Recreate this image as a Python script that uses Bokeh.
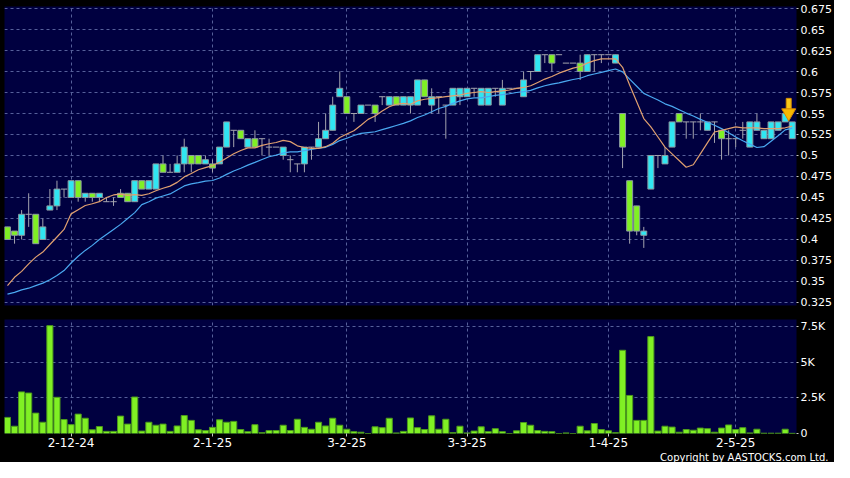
import numpy as np
from bokeh.plotting import figure
from bokeh.layouts import column
from bokeh.models import FixedTicker, Range1d, NumeralTickFormatter, Title
from bokeh.embed import file_html
from bokeh.resources import INLINE

FONT = "DejaVu Sans"

opens = [0.415, 0.41, 0.405, 0.43, 0.43, 0.40, 0.435, 0.44, 0.46, 0.45,
         0.47, 0.45, 0.455, 0.45, 0.445, 0.445, 0.455, 0.455, 0.445, 0.47,
         0.46, 0.46, 0.49, 0.48, 0.48, 0.49, 0.50, 0.50, 0.49, 0.49,
         0.49, 0.51, 0.53, 0.53, 0.51, 0.52, 0.52, 0.51, 0.51, 0.50,
         0.495, 0.49, 0.49, 0.51, 0.51, 0.52, 0.53, 0.57, 0.57, 0.55,
         0.55, 0.56, 0.56, 0.57, 0.56, 0.57, 0.56, 0.56, 0.56, 0.59,
         0.56, 0.57, 0.56, 0.56, 0.57, 0.57, 0.58, 0.56, 0.56, 0.58,
         0.56, 0.58, 0.58, 0.57, 0.60, 0.60, 0.62, 0.62, 0.62, 0.61,
         0.61, 0.61, 0.60, 0.62, 0.62, 0.62, 0.61, 0.55, 0.47, 0.44,
         0.405, 0.46, 0.50, 0.49, 0.51, 0.55, 0.54, 0.54, 0.54, 0.53,
         0.54, 0.53, 0.52, 0.52, 0.53, 0.51, 0.53, 0.52, 0.52, 0.53,
         0.54, 0.52]
highs = [0.415, 0.41, 0.435, 0.455, 0.43, 0.425, 0.46, 0.47, 0.46, 0.47,
         0.47, 0.455, 0.455, 0.455, 0.45, 0.45, 0.46, 0.455, 0.47, 0.47,
         0.47, 0.49, 0.50, 0.49, 0.50, 0.52, 0.50, 0.50, 0.50, 0.495,
         0.51, 0.54, 0.53, 0.53, 0.52, 0.53, 0.52, 0.52, 0.51, 0.51,
         0.50, 0.49, 0.51, 0.51, 0.54, 0.55, 0.57, 0.60, 0.57, 0.55,
         0.56, 0.56, 0.56, 0.57, 0.57, 0.57, 0.57, 0.57, 0.59, 0.59,
         0.58, 0.57, 0.56, 0.58, 0.58, 0.58, 0.58, 0.58, 0.58, 0.58,
         0.59, 0.58, 0.58, 0.60, 0.60, 0.62, 0.62, 0.62, 0.62, 0.61,
         0.61, 0.62, 0.62, 0.62, 0.62, 0.62, 0.62, 0.55, 0.47, 0.44,
         0.415, 0.50, 0.50, 0.51, 0.54, 0.55, 0.54, 0.54, 0.55, 0.54,
         0.54, 0.53, 0.53, 0.52, 0.54, 0.54, 0.55, 0.53, 0.54, 0.54,
         0.55, 0.54]
lows = [0.40, 0.395, 0.40, 0.415, 0.395, 0.40, 0.435, 0.435, 0.45, 0.45,
        0.445, 0.445, 0.445, 0.445, 0.445, 0.44, 0.45, 0.445, 0.445, 0.46,
        0.46, 0.46, 0.48, 0.48, 0.48, 0.48, 0.48, 0.49, 0.49, 0.48,
        0.49, 0.51, 0.51, 0.52, 0.51, 0.51, 0.50, 0.50, 0.51, 0.495,
        0.48, 0.48, 0.48, 0.495, 0.51, 0.52, 0.53, 0.57, 0.55, 0.54,
        0.55, 0.56, 0.54, 0.56, 0.56, 0.56, 0.56, 0.55, 0.56, 0.57,
        0.55, 0.55, 0.52, 0.56, 0.56, 0.57, 0.57, 0.56, 0.56, 0.57,
        0.56, 0.58, 0.58, 0.57, 0.59, 0.60, 0.61, 0.60, 0.62, 0.61,
        0.61, 0.59, 0.60, 0.60, 0.61, 0.62, 0.61, 0.485, 0.395, 0.405,
        0.39, 0.46, 0.485, 0.49, 0.51, 0.54, 0.52, 0.52, 0.53, 0.53,
        0.515, 0.495, 0.50, 0.51, 0.52, 0.51, 0.53, 0.52, 0.52, 0.53,
        0.54, 0.52]
closes = [0.40, 0.405, 0.43, 0.43, 0.395, 0.415, 0.44, 0.46, 0.46, 0.47,
          0.45, 0.455, 0.45, 0.455, 0.445, 0.445, 0.45, 0.445, 0.47, 0.46,
          0.47, 0.49, 0.48, 0.48, 0.49, 0.51, 0.49, 0.49, 0.495, 0.485,
          0.51, 0.54, 0.53, 0.52, 0.52, 0.51, 0.52, 0.51, 0.51, 0.51,
          0.495, 0.49, 0.51, 0.51, 0.52, 0.53, 0.56, 0.58, 0.55, 0.55,
          0.56, 0.56, 0.55, 0.57, 0.57, 0.56, 0.57, 0.57, 0.59, 0.57,
          0.57, 0.57, 0.56, 0.58, 0.58, 0.58, 0.58, 0.58, 0.58, 0.58,
          0.58, 0.58, 0.58, 0.59, 0.60, 0.62, 0.62, 0.61, 0.62, 0.61,
          0.61, 0.60, 0.62, 0.62, 0.62, 0.62, 0.62, 0.51, 0.41, 0.41,
          0.41, 0.50, 0.50, 0.50, 0.54, 0.54, 0.54, 0.54, 0.54, 0.54,
          0.54, 0.52, 0.52, 0.52, 0.53, 0.54, 0.54, 0.53, 0.54, 0.54,
          0.55, 0.54]
volumes = [1130, 510, 2920, 2840, 1430, 790, 7570, 2540, 980, 620,
           1360, 1070, 260, 490, 150, 150, 1220, 660, 2560, 170,
           790, 580, 660, 150, 530, 1260, 920, 260, 210, 430,
           960, 790, 850, 280, 130, 620, 60, 210, 210, 580,
           210, 1000, 430, 300, 790, 530, 1070, 580, 300, 130,
           90, 0, 470, 410, 1070, 40, 150, 1090, 410, 280,
           1240, 300, 1000, 60, 510, 40, 170, 470, 130, 340,
           130, 0, 190, 770, 580, 210, 150, 130, 0, 40,
           0, 510, 190, 700, 280, 190, 60, 5840, 2670, 920,
           920, 6800, 170, 510, 450, 90, 280, 230, 380, 340,
           90, 380, 600, 280, 410, 40, 300, 20, 20, 20,
           300, 10]

# moving averages before enough in-window history exists
ma10_head = [0.345, 0.355, 0.362, 0.371, 0.379, 0.385, 0.394, 0.403, 0.412]
ma20_head = [0.335, 0.337, 0.340, 0.342, 0.345, 0.348, 0.352, 0.357, 0.363,
             0.372, 0.380, 0.387, 0.393, 0.400, 0.406, 0.412, 0.418, 0.425, 0.432]

date_ticks = [9, 29, 48, 65, 85, 103]
date_labels = ["2-12-24", "2-1-25", "3-2-25", "3-3-25", "1-4-25", "2-5-25"]
price_ticks = [0.325, 0.35, 0.375, 0.4, 0.425, 0.45, 0.475, 0.5, 0.525,
               0.55, 0.575, 0.6, 0.625, 0.65, 0.675]
vol_ticks = [0, 2500, 5000, 7500]
vol_labels = ["0", "2.5K", "5K", "7.5K"]

arrow_index = 110.5
arrow_tip = 0.545
arrow_top = 0.568

# ---------------------------------------------------------------------
n = len(closes)
idx = np.arange(n)
o = np.array(opens)
c = np.array(closes)
h = np.array(highs)
l = np.array(lows)
up = c > o + 1e-9
dn = c < o - 1e-9
flat = ~(up | dn)

ma10 = [ma10_head[i] if i < 9 else float(np.mean(c[i - 9:i + 1])) for i in range(n)]
ma20 = [ma20_head[i] if i < 19 else float(np.mean(c[i - 19:i + 1])) for i in range(n)]

BG = "#000040"
GRID = "#56609a"
CYAN = "#30e6f2"
LIME = "#80f024"
WICK = "#a4a4ae"
OUTL = "#8c9aa0"

x_range = Range1d(-0.42, n - 1 + 0.6)

p = figure(width=834, height=318, x_range=x_range, y_range=Range1d(0.3214, 0.6774),
           y_axis_location="right", toolbar_location=None, output_backend="svg",
           min_border_top=6, min_border_bottom=13, min_border_left=4, min_border_right=35,
           background_fill_color=BG, border_fill_color="#000000", outline_line_color=None)

p.segment(x0=idx, x1=idx, y0=l, y1=h, line_color=WICK, line_width=1)
p.vbar(x=idx[up], bottom=o[up], top=c[up], width=0.84, fill_color=CYAN,
       line_color=OUTL, line_width=1)
p.vbar(x=idx[dn], bottom=c[dn], top=o[dn], width=0.84, fill_color=LIME,
       line_color=OUTL, line_width=1)
p.segment(x0=idx[flat] - 0.45, x1=idx[flat] + 0.45, y0=c[flat], y1=c[flat],
          line_color=WICK, line_width=1)
p.line(idx, ma20, line_color="#4aa8f0", line_width=1.2)
p.line(idx, ma10, line_color="#e0a070", line_width=1.2)

# latest-bar arrow
shaft_bottom = arrow_tip + (arrow_top - arrow_tip) * 0.45
p.vbar(x=[arrow_index], bottom=[shaft_bottom], top=[arrow_top], width=0.7,
       fill_color="#f8c818", line_color="#d89000")
p.scatter(x=[arrow_index], y=[arrow_tip + (arrow_top - arrow_tip) * 0.25],
          marker="inverted_triangle", size=14, fill_color="#f8b800",
          line_color="#d88800")

v = figure(width=834, height=144, x_range=x_range, y_range=Range1d(0, 8000),
           y_axis_location="right", toolbar_location=None, output_backend="svg",
           min_border_top=1, min_border_bottom=0, min_border_left=4, min_border_right=35,
           background_fill_color=BG, border_fill_color="#000000", outline_line_color=None)
v.vbar(x=idx, top=volumes, width=0.86, fill_color=LIME, line_color="#4c9a1c", line_width=1)

for fig in (p, v):
    fig.ygrid.grid_line_color = GRID
    fig.ygrid.grid_line_dash = "3 3"
    fig.xgrid.grid_line_color = GRID
    fig.xgrid.grid_line_dash = "3 3"
    fig.xgrid.ticker = FixedTicker(ticks=date_ticks)
    for ax in (fig.yaxis[0], fig.xaxis[0]):
        ax.axis_line_color = None
        ax.major_tick_line_color = "#c8c8c8"
        ax.major_tick_in = 0
        ax.major_tick_out = 2
        ax.minor_tick_line_color = None
        ax.major_label_text_color = "#ffffff"
        ax.major_label_text_font = FONT
        ax.major_label_text_font_size = "11px"
        ax.major_label_standoff = 2

p.xaxis.visible = False
p.yaxis.ticker = FixedTicker(ticks=price_ticks)
p.yaxis.formatter = NumeralTickFormatter(format="0.[000]")
p.ygrid.ticker = FixedTicker(ticks=price_ticks)

v.yaxis.ticker = FixedTicker(ticks=vol_ticks)
v.yaxis.major_label_overrides = {t: s for t, s in zip(vol_ticks, vol_labels)}
v.ygrid.ticker = FixedTicker(ticks=vol_ticks)
v.xaxis.ticker = FixedTicker(ticks=date_ticks)
v.xaxis.major_label_overrides = {t: s for t, s in zip(date_ticks, date_labels)}
v.xaxis.major_tick_out = 3
v.xaxis.major_label_standoff = 1
v.xaxis.major_label_text_font_size = "12px"

v.add_layout(Title(text="Copyright by AASTOCKS.com Ltd.", align="right",
                   text_color="#ffffff", text_font=FONT, text_font_size="10px",
                   text_font_style="normal", standoff=0, offset=-32), "below")

layout = column(p, v, spacing=0, styles={"background-color": "#000000"})
html = file_html(layout, INLINE, title="chart")
html = html.replace("<body>", '<body style="background-color:#000000;">', 1)
open("out.html", "w").write(html)
